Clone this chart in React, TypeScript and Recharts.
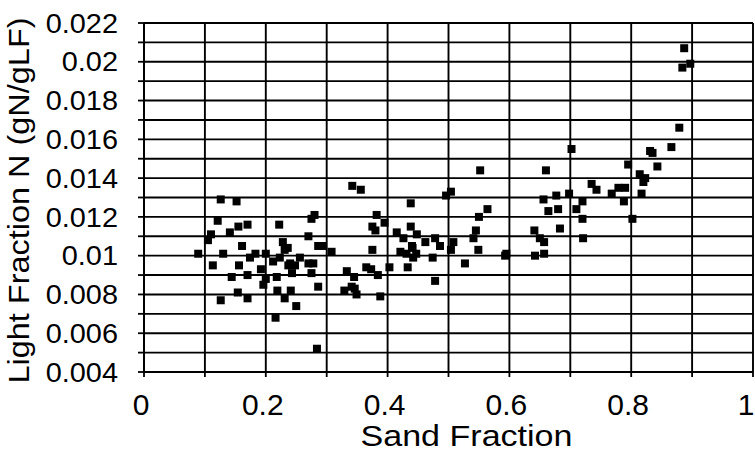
import React from "react";
import {
  ScatterChart,
  Scatter,
  XAxis,
  YAxis,
  ZAxis,
  CartesianGrid,
  Label,
} from "recharts";

// sand fraction (x) and light fraction N (y)
const sandFraction = [
  0.089, 0.105, 0.11, 0.113, 0.121, 0.126, 0.126, 0.13, 0.141, 0.144, 0.152,
  0.154, 0.155, 0.156, 0.161, 0.17, 0.17, 0.17, 0.174, 0.183, 0.192, 0.196,
  0.2, 0.2, 0.212, 0.216, 0.218, 0.219, 0.222, 0.223, 0.228, 0.231, 0.231,
  0.236, 0.237, 0.24, 0.241, 0.243, 0.248, 0.25, 0.256, 0.27, 0.27, 0.275,
  0.275, 0.278, 0.28, 0.284, 0.286, 0.286, 0.294, 0.308,
  0.329, 0.333, 0.341, 0.342, 0.345, 0.346, 0.349, 0.356, 0.365, 0.373,
  0.375, 0.375, 0.38, 0.382, 0.384, 0.388, 0.395, 0.403, 0.415, 0.421,
  0.426, 0.431, 0.433, 0.438, 0.438, 0.44, 0.441, 0.442, 0.447, 0.448,
  0.462, 0.474, 0.478, 0.478, 0.486, 0.496, 0.504, 0.504, 0.508, 0.527,
  0.541, 0.545, 0.549, 0.55, 0.552, 0.564, 0.593, 0.595,
  0.641, 0.642, 0.65, 0.656, 0.657, 0.657, 0.66, 0.664, 0.677, 0.68, 0.683,
  0.698, 0.702, 0.71, 0.72, 0.72, 0.721, 0.735, 0.743, 0.768, 0.779, 0.788,
  0.79, 0.795, 0.802, 0.814, 0.817, 0.82, 0.823, 0.831, 0.835, 0.843, 0.866,
  0.879, 0.884, 0.887, 0.897,
];

const lightFractionN = [
  0.0101, 0.0108, 0.0111, 0.0095, 0.0118, 0.0129, 0.0077, 0.0101, 0.0112,
  0.0089, 0.0128, 0.0081, 0.0115, 0.0095, 0.0105, 0.0116, 0.009, 0.0078,
  0.0099, 0.0101, 0.0093, 0.0085, 0.0101, 0.0088, 0.0097, 0.0068, 0.0089,
  0.0082, 0.0116, 0.0099, 0.0107, 0.0103, 0.0078, 0.0104, 0.0095, 0.0096,
  0.0082, 0.0091, 0.0095, 0.0074, 0.0099, 0.011, 0.0096, 0.0119, 0.0091,
  0.0096, 0.0121, 0.0052, 0.0105, 0.0084, 0.0105, 0.0102,
  0.0082, 0.0092, 0.0084, 0.0136, 0.0089, 0.0083, 0.008, 0.0134, 0.0094,
  0.0093, 0.0115, 0.0103, 0.0113, 0.0121, 0.009, 0.0079, 0.0117, 0.0094,
  0.0112, 0.0102, 0.0109, 0.0101, 0.0094, 0.0127, 0.0115, 0.0105, 0.0104,
  0.0099, 0.0101, 0.0111, 0.0107, 0.0099, 0.0109, 0.0087, 0.0105, 0.0131,
  0.0133, 0.0103, 0.0107, 0.0096, 0.0109, 0.0113, 0.0103, 0.012, 0.0144,
  0.0124, 0.01, 0.0101,
  0.0113, 0.01, 0.0109, 0.0129, 0.0107, 0.0101, 0.0144, 0.0123, 0.0131,
  0.0124, 0.0114, 0.0132, 0.0155, 0.0124, 0.0128, 0.0119, 0.0109, 0.0137,
  0.0134, 0.0132, 0.0135, 0.0128, 0.0135, 0.0147, 0.0119, 0.0142, 0.0132,
  0.0138, 0.014, 0.0154, 0.0153, 0.0146, 0.0156, 0.0166, 0.0197, 0.0207,
  0.0199,
];

const xTicks = [0, 0.1, 0.2, 0.3, 0.4, 0.5, 0.6, 0.7, 0.8, 0.9, 1];
const yTicks = [
  0.004, 0.005, 0.006, 0.007, 0.008, 0.009, 0.01, 0.011, 0.012, 0.013, 0.014,
  0.015, 0.016, 0.017, 0.018, 0.019, 0.02, 0.021, 0.022,
];

const points = sandFraction.map((x, i) => ({ x, y: lightFractionN[i] }));

const FONT = "'Liberation Sans', Arial, Helvetica, sans-serif";

function XTick(props: any) {
  const { x, y, payload } = props;
  const v = payload.value as number;
  if (Math.abs(v * 5 - Math.round(v * 5)) > 1e-6) return null;
  const label = String(Number(v.toFixed(1)));
  // last label sits against the right edge of the figure
  const shift = v >= 1 ? -7 : -3;
  return (
    <text
      x={x + shift}
      y={y}
      dy={36}
      textAnchor="middle"
      fontFamily={FONT}
      fontSize={30}
      fill="#000"
    >
      {label}
    </text>
  );
}

function YTick(props: any) {
  const { x, y, payload } = props;
  const v = payload.value as number;
  if (Math.round(v * 1000) % 2 !== 0) return null;
  const label = String(Number(v.toFixed(3)));
  return (
    <g transform={`translate(${x},${y})`}>
      <text
        transform="scale(1.07,1)"
        textAnchor="end"
        dy={9.7}
        fontFamily={FONT}
        fontSize={27}
        fill="#000"
      >
        {label}
      </text>
    </g>
  );
}

export default function App() {
  return (
    <div style={{ position: "absolute", left: 0, top: 0, background: "#fff" }}>
      <ScatterChart
        width={755}
        height={451}
        margin={{ top: 23, right: 2, bottom: 0, left: 0 }}
      >
        <CartesianGrid stroke="#000" strokeWidth={1.9} />
        <XAxis
          type="number"
          dataKey="x"
          domain={[0, 1]}
          ticks={xTicks}
          interval={0}
          height={79}
          tick={<XTick />}
          tickSize={5}
          tickMargin={2}
          tickLine={{ stroke: "#000", strokeWidth: 1.8 }}
          axisLine={{ stroke: "#000", strokeWidth: 2 }}
        >
          <Label
            content={(p: any) => {
              const vb = p.viewBox || { x: 144, y: 372, width: 609 };
              return (
                <text
                  x={vb.x + vb.width / 2 + 18}
                  y={vb.y + 74}
                  textAnchor="middle"
                  fontFamily={FONT}
                  fontSize={29}
                  textLength={212}
                  lengthAdjust="spacingAndGlyphs"
                  fill="#000"
                >
                  Sand Fraction
                </text>
              );
            }}
          />
        </XAxis>
        <YAxis
          type="number"
          dataKey="y"
          domain={[0.004, 0.022]}
          ticks={yTicks}
          interval={0}
          width={144}
          tick={<YTick />}
          tickSize={6}
          tickMargin={20}
          tickLine={{ stroke: "#000", strokeWidth: 1.8 }}
          axisLine={{ stroke: "#000", strokeWidth: 2 }}
        >
          <Label
            content={(p: any) => {
              const vb = p.viewBox || { x: 0, y: 23, height: 349 };
              const cx = vb.x + 29;
              const cy = vb.y + vb.height / 2 + 3;
              return (
                <text
                  x={cx}
                  y={cy}
                  transform={`rotate(-90, ${cx}, ${cy})`}
                  textAnchor="middle"
                  fontFamily={FONT}
                  fontSize={30}
                  textLength={366}
                  lengthAdjust="spacingAndGlyphs"
                  fill="#000"
                >
                  Light Fraction N (gN/gLF)
                </text>
              );
            }}
          />
        </YAxis>
        <ZAxis range={[44, 44]} />
        <Scatter
          data={points}
          fill="#000"
          shape="square"
          isAnimationActive={false}
        />
      </ScatterChart>
    </div>
  );
}
